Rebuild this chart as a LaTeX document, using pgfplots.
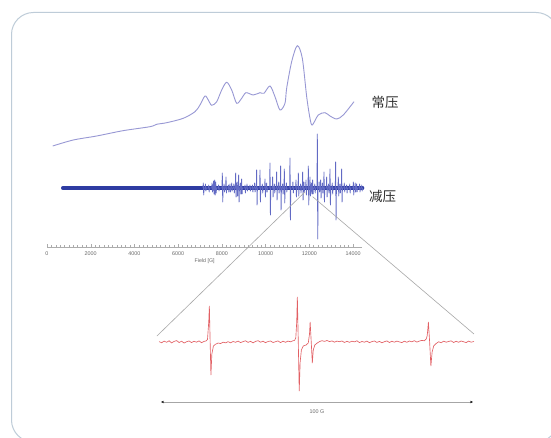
\documentclass[border=0pt]{standalone}
\usepackage{fontspec}
\setmainfont{Liberation Sans}
\newfontfamily\cjk{Noto Sans CJK SC}
\usepackage{pgfplots}
\pgfplotsset{compat=1.18}
\usetikzlibrary{arrows.meta}

\definecolor{framec}{RGB}{190,204,216}
\definecolor{ambient}{RGB}{152,152,212}
\definecolor{reduced}{RGB}{46,60,162}
\definecolor{spikec}{RGB}{98,106,196}
\definecolor{zoomred}{RGB}{226,96,100}
\definecolor{guide}{RGB}{168,168,168}
\definecolor{ticktext}{RGB}{105,105,105}
\definecolor{labelc}{RGB}{45,45,45}

\begin{document}
\begin{tikzpicture}[x=1pt,y=1pt]
\useasboundingbox (0,0) rectangle (551,438);
\fill[white] (0,0) rectangle (551,438);
% slide frame
\draw[framec, line width=1pt, rounded corners=22pt] (11.5,-4) rectangle (558,425.5);

% full-field spectra
\begin{axis}[
  at={(47pt,191pt)}, anchor=south west, scale only axis,
  width=315.2pt, height=210pt,
  xmin=0, xmax=14420, ymin=0, ymax=210,
  clip=false,
  axis x line=bottom, axis y line=none,
  axis line style={-, draw=gray!65, line width=0.5pt},
  xtick={0,2000,...,14000}, minor x tick num=9,
  tick align=inside,
  major tick length=2.6pt, minor tick length=1.9pt,
  tick style={draw=gray!65, line width=0.4pt},
  scaled x ticks=false,
  /pgf/number format/1000 sep={},
  /pgf/number format/assume math mode=true,
  xticklabel style={font=\fontsize{5.4}{6}\selectfont, text=ticktext, yshift=-1.2pt},
  xlabel={Field [G]},
  xlabel style={font=\fontsize{5.3}{6}\selectfont, text=ticktext, yshift=4pt},
]
% ambient-pressure spectrum
\addplot[ambient, line width=0.9pt, smooth] coordinates {
(261,101) (1203,107) (2274,111) (3477,116.3) (4712,120.3) (5018,122.7)
(5476,124.3) (6235,128.7) (6770,135.3) (6999,142) (7228,151) (7379,147)
(7534,141.7) (7763,145.3) (7992,157) (8220,164.7) (8449,157) (8678,143.7)
(8907,148.7) (9103,154.3) (9437,152) (9744,154.3) (9927,153.7) (10201,161)
(10430,150.3) (10659,137) (10887,143.7) (10964,158.7) (11193,185.3)
(11450,201.3) (11680,188.7) (11880,150.3) (12031,128.7) (12137,122)
(12411,132) (12717,134.3) (12946,131) (13253,128) (13554,132) (14044,145.3)
};
% reduced-pressure spectrum: baseline band
\addplot[reduced, line width=3.3pt, line cap=round] coordinates {(718,59) (14440,59)};
% reduced-pressure spectrum: derivative lines
\addplot[spikec, line width=0.8pt, line join=round] coordinates {
(7135,59) (7150,64) (7170,52) (7185,59)
(7235,59) (7250,63) (7270,56) (7285,59)
(7385,59) (7400,62) (7420,55) (7435,59)
(7535,59) (7550,64) (7570,55) (7585,59)
(7605,59) (7620,66) (7640,53) (7655,59)
(7656,59) (7671,67) (7691,52) (7706,59)
(7710,59) (7720,65) (7740,54) (7755,59)
(7835,59) (7850,62) (7870,56) (7885,59)
(8005,59) (8020,74) (8040,45) (8055,59)
(8085,59) (8100,63) (8120,55) (8135,59)
(8174,59) (8189,70) (8209,54) (8224,59)
(8285,59) (8300,62) (8320,55) (8335,59)
(8356,59) (8371,63) (8391,55) (8406,59)
(8435,59) (8450,64) (8470,56) (8485,59)
(8535,59) (8550,63) (8570,54) (8585,59)
(8616,59) (8631,74) (8651,50) (8666,59)
(8685,59) (8700,65) (8720,51) (8735,59)
(8753,59) (8768,72) (8788,45) (8803,59)
(8835,59) (8850,64) (8870,53) (8885,59)
(8890,59) (8905,68) (8925,53) (8940,59)
(9043,59) (9058,62) (9078,54) (9093,59)
(9135,59) (9150,63) (9170,56) (9185,59)
(9271,59) (9286,62) (9306,56) (9321,59)
(9385,59) (9400,62) (9420,55) (9435,59)
(9485,59) (9500,64) (9520,55) (9535,59)
(9576,59) (9591,77) (9611,42) (9626,59)
(9729,59) (9744,77) (9764,45) (9779,59)
(9835,59) (9850,63) (9870,54) (9885,59)
(9958,59) (9973,68) (9993,50) (10008,59)
(10035,59) (10050,64) (10070,55) (10085,59)
(10186,59) (10201,84) (10221,32) (10236,59)
(10308,59) (10323,70) (10343,50) (10358,59)
(10385,59) (10400,63) (10420,54) (10435,59)
(10491,59) (10506,75) (10526,47) (10541,59)
(10585,59) (10600,65) (10620,54) (10635,59)
(10674,59) (10689,81) (10709,37) (10724,59)
(10765,59) (10780,63) (10800,53) (10815,59)
(10842,59) (10857,78) (10877,44) (10892,59)
(10935,59) (10950,64) (10970,55) (10985,59)
(11101,59) (11116,89) (11136,27) (11151,59)
(11235,59) (11250,65) (11270,54) (11285,59)
(11376,59) (11391,67) (11411,50) (11426,59)
(11483,59) (11498,74) (11518,51) (11533,59)
(11585,59) (11600,63) (11620,54) (11635,59)
(11681,59) (11696,75) (11716,47) (11731,59)
(11735,59) (11750,65) (11770,55) (11785,59)
(11833,59) (11848,67) (11868,52) (11883,59)
(11940,59) (11955,81) (11975,42) (11990,59)
(12016,59) (12031,70) (12051,51) (12066,59)
(12085,59) (12100,64) (12120,53) (12135,59)
(12138,59) (12153,67) (12173,53) (12188,59)
(12235,59) (12250,63) (12270,54) (12285,59)
(12352,59) (12367,113) (12387,8) (12402,59)
(12435,59) (12450,65) (12470,55) (12485,59)
(12504,59) (12519,67) (12539,49) (12554,59)
(12585,59) (12600,64) (12620,54) (12635,59)
(12657,59) (12672,75) (12692,45) (12707,59)
(12779,59) (12794,70) (12814,50) (12829,59)
(12865,59) (12880,63) (12900,54) (12915,59)
(12931,59) (12946,78) (12966,42) (12981,59)
(13035,59) (13050,64) (13070,53) (13085,59)
(13190,59) (13205,85) (13225,27) (13240,59)
(13312,59) (13327,70) (13347,51) (13362,59)
(13385,59) (13400,63) (13420,54) (13435,59)
(13465,59) (13480,78) (13500,45) (13515,59)
(13585,59) (13600,64) (13620,55) (13635,59)
(13694,59) (13709,62) (13729,54) (13744,59)
(13835,59) (13850,63) (13870,54) (13885,59)
(13999,59) (14014,65) (14034,52) (14049,59)
(14085,59) (14100,64) (14120,55) (14135,59)
(14151,59) (14166,63) (14186,55) (14201,59)
(14285,59) (14300,63) (14320,55) (14335,59)
(14385,59) (14400,62) (14420,56) (14435,59)
};
\coordinate (zl) at (axis cs:11800,55);
\coordinate (zr) at (axis cs:12155,50.3);
\end{axis}

% 100 G window
\begin{axis}[
  at={(157.88pt,36pt)}, anchor=south west, scale only axis,
  width=318.24pt, height=120pt,
  xmin=-1, xmax=101, ymin=-60, ymax=60,
  hide axis, clip=false,
]
\addplot[zoomred, line width=0.65pt] coordinates {
(-0.6,0.4) (0.2,-0.8) (1.0,0.9) (1.8,-0.3) (2.6,1.2) (3.4,-0.9) (4.2,0.6)
(5.0,1.4) (5.8,-0.5) (6.6,0.8) (7.4,-1.1) (8.2,0.3) (9.0,1.0) (9.8,-0.6)
(10.6,0.7) (11.4,-0.2) (12.2,1.1) (13.0,-0.7) (13.8,0.6) (14.4,1.0)
(14.9,2.5) (15.3,20) (15.5,36) (15.75,0) (16.0,-33) (16.3,-12) (16.8,-4)
(17.5,-2.2) (18.3,-1.0) (19.1,-1.6) (19.9,-0.2) (20.7,-0.9) (21.5,0.3)
(22.3,-0.8) (23.1,0.5) (23.9,-0.3) (24.7,0.9) (25.5,-0.6) (26.3,0.4)
(27.1,1.2) (27.9,-0.4) (28.7,0.7) (29.5,-0.9) (30.3,0.6) (31.1,1.3)
(31.9,-0.2) (32.7,0.8) (33.5,-0.7) (34.3,0.5) (35.1,1.0) (35.9,-0.5)
(36.7,0.3) (37.5,1.1) (38.3,-0.6) (39.1,0.8) (39.9,-0.3) (40.7,0.9)
(41.5,0.2) (42.3,1.2) (42.8,1.6) (43.2,4) (43.5,20) (43.7,45) (44.0,0)
(44.3,-49) (44.6,-20) (45.0,-8) (45.6,-4) (46.5,-3) (47.2,-1) (47.6,8)
(47.8,20) (48.15,0) (48.5,-21) (48.8,-8) (49.3,-3) (50.0,-1.2) (50.8,0.4)
(51.6,1.3) (52.4,0.6) (53.2,1.5) (54.0,0.4) (54.8,1.1) (55.6,-0.2)
(56.4,0.9) (57.2,0.3) (58.0,1.0) (58.8,-0.5) (59.6,0.7) (60.4,-0.3)
(61.2,0.8) (62.0,0.1) (62.8,1.2) (63.6,-0.6) (64.4,0.5) (65.2,-0.2)
(66.0,0.9) (66.8,-0.7) (67.6,0.4) (68.4,1.0) (69.2,-0.4) (70.0,0.6)
(70.8,-0.8) (71.6,0.3) (72.4,1.1) (73.2,-0.5) (74.0,0.7) (74.8,-0.2)
(75.6,0.9) (76.4,0.1) (77.2,-0.6) (78.0,0.8) (78.8,-0.3) (79.6,1.0)
(80.4,0.2) (81.2,1.3) (82.0,-0.1) (82.8,0.9) (83.6,1.6) (84.4,1.2)
(85.0,3) (85.3,6) (85.5,12) (85.7,20) (86.1,0) (86.5,-24) (86.9,-10)
(87.4,-4) (88.2,-1.5) (89.0,0.2) (89.8,-0.7) (90.6,0.8) (91.4,-0.2)
(92.2,0.6) (93.0,1.1) (93.8,-0.5) (94.6,0.7) (95.4,-0.3) (96.2,1.0)
(97.0,0.2) (97.8,-0.6) (98.6,0.9) (99.4,-0.2) (100.3,0.5)
};
\draw[{Stealth[length=3pt,width=2.4pt,color=black]}-{Stealth[length=3pt,width=2.4pt,color=black]},
  draw=gray!70, line width=0.7pt] (axis cs:0,-60) -- (axis cs:100,-60);
\node[font=\fontsize{5.4}{6}\selectfont, text=ticktext] at (axis cs:50,-70) {100 G};
\coordinate (il) at (axis cs:-1.3,6);
\coordinate (ir) at (axis cs:100.3,8);
\end{axis}

% guides from the spectrum to the window
\draw[guide, line width=0.6pt] (zl) -- (il);
\draw[guide, line width=0.6pt] (zr) -- (ir);

\node[font=\cjk\fontsize{13.5}{14}\selectfont, text=labelc] at (385,336) {常压};
\node[font=\cjk\fontsize{13.5}{14}\selectfont, text=labelc] at (382.5,241.3) {减压};
\end{tikzpicture}
\end{document}
